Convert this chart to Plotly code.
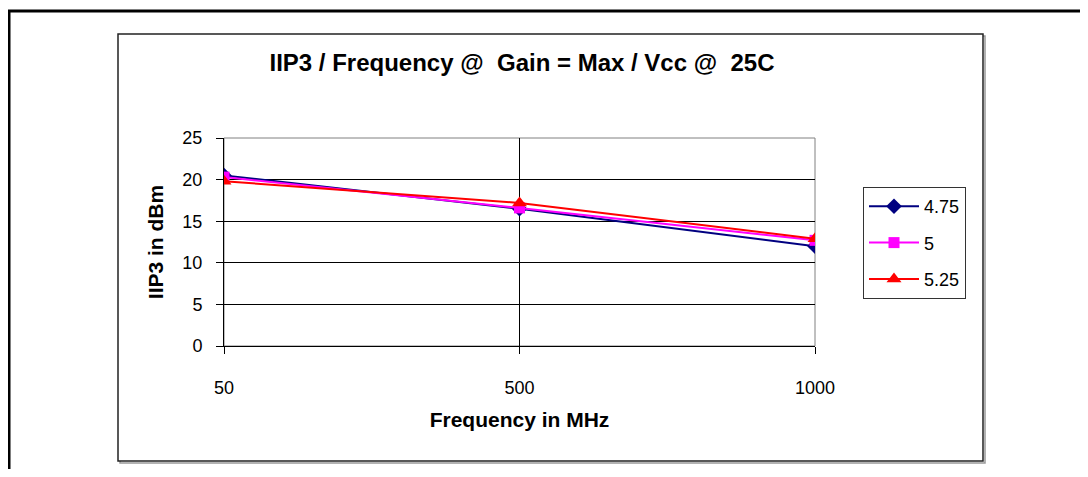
import plotly.graph_objects as go

# ---- data ----
frequencies = ["50", "500", "1000"]
series_names = ["4.75", "5", "5.25"]
iip3_475 = [20.5, 16.5, 12.0]
iip3_5 = [20.3, 16.6, 12.7]
iip3_525 = [19.8, 17.2, 12.9]
y_ticks = [0, 5, 10, 15, 20, 25]

# page is shown with the default 8px body margin, so work in page pixels minus 8
OFF = 8
W, H = 1088 - 2 * OFF, 477 - 2 * OFF
L, R, T, B = 224 - OFF, 815 - OFF, 138 - OFF, 346 - OFF   # plot area

def px(x):
    return (x - OFF - L) / (R - L)

def py(y):
    return (B - (y - OFF)) / (B - T)

FONT = "Liberation Sans, Arial, sans-serif"

fig = go.Figure()
styles = [
    ("#000080", "diamond", 12),
    ("#FF00FF", "square", 11),
    ("#FF0000", "triangle-up", 13),
]
for name, vals, (col, sym, sz) in zip(series_names, [iip3_475, iip3_5, iip3_525], styles):
    fig.add_trace(go.Scatter(
        x=frequencies, y=vals, name=name, mode="lines+markers",
        line=dict(color=col, width=2),
        marker=dict(color=col, symbol=sym, size=sz),
        legendgroup=name,
    ))

shapes = [
    # outer frame
    dict(type="rect", xref="paper", yref="paper", x0=px(9), x1=px(1110), y0=py(11), y1=py(500),
         line=dict(color="black", width=3), layer="below"),
    # inner chart box shadow
    dict(type="rect", xref="paper", yref="paper", x0=px(120), x1=px(985), y0=py(36), y1=py(463),
         line=dict(color="#999999", width=1.5), layer="below"),
    # inner chart box
    dict(type="rect", xref="paper", yref="paper", x0=px(118), x1=px(983), y0=py(34), y1=py(461),
         line=dict(color="#222222", width=1.5), fillcolor="white", layer="below"),
    # plot area border
    dict(type="rect", xref="paper", yref="paper", x0=0, x1=1, y0=0, y1=1,
         line=dict(color="#808080", width=1), layer="below"),
]

fig.update_layout(
    width=W, height=H,
    margin=dict(l=L, r=W - R, t=T, b=H - B, autoexpand=False),
    paper_bgcolor="white", plot_bgcolor="white",
    font=dict(family=FONT, color="black", size=17),
    title=dict(text="<b>IIP3 / Frequency @  Gain = Max / Vcc @  25C</b>",
               x=px(522), xref="paper", xanchor="center",
               y=1 - (63 - OFF) / H, yanchor="middle",
               font=dict(size=24, family=FONT, color="black")),
    showlegend=True,
    legend=dict(x=px(863), y=py(187), xanchor="left", yanchor="top",
                bordercolor="#333333", borderwidth=1, bgcolor="white",
                font=dict(size=18, family=FONT, color="black"),
                tracegroupgap=10, traceorder="grouped", itemwidth=50),
    shapes=shapes,
    xaxis=dict(type="category", range=[0, 2], showgrid=True, gridcolor="black", gridwidth=1,
               showline=True, linecolor="black", linewidth=1,
               ticks="outside", ticklen=7, tickcolor="black",
               tickfont=dict(size=18), ticklabelstandoff=18,
               title=dict(text="<b>Frequency in MHz</b>", font=dict(size=21), standoff=15),
               fixedrange=True),
    yaxis=dict(range=[0, 25], tickvals=y_ticks, showgrid=True, gridcolor="black", gridwidth=1,
               showline=True, linecolor="black", linewidth=1, zeroline=False,
               ticks="outside", ticklen=7, tickcolor="black",
               tickfont=dict(size=18), ticklabelstandoff=10,
               title=dict(text="<b>IIP3 in dBm</b>", font=dict(size=21), standoff=13),
               fixedrange=True),
)

fig.write_html("out.html")
